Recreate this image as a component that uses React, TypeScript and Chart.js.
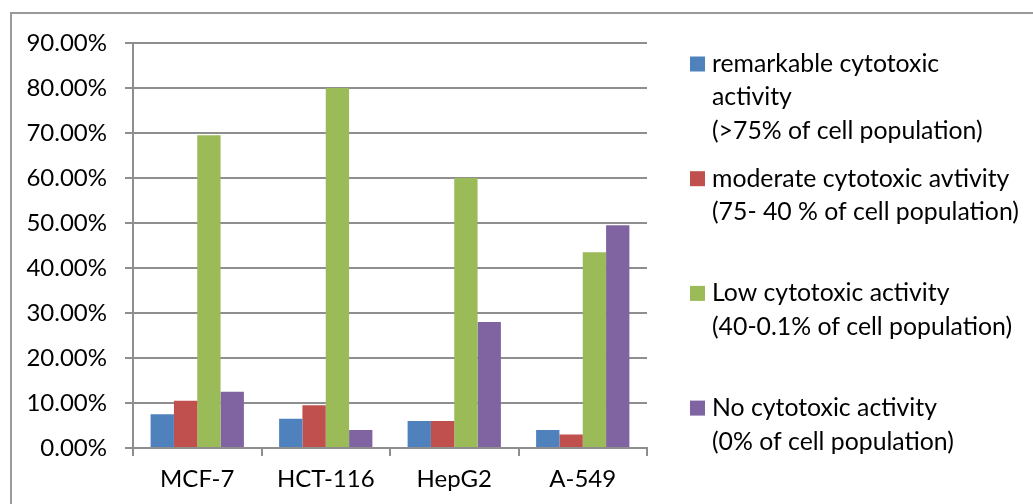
import React, { useEffect, useRef } from "react";
import { Chart, registerables } from "chart.js";

Chart.register(...registerables);

const categories = ["MCF-7", "HCT-116", "HepG2", "A-549"];
const remarkable = [7.5, 6.5, 6, 4];
const moderate = [10.5, 9.5, 6, 3];
const low = [69.5, 80, 60, 43.5];
const noActivity = [12.5, 4, 28, 49.5];

const legendLines = [
  ["remarkable cytotoxic", "activity", "(>75% of cell population)"],
  ["moderate cytotoxic avtivity", "(75- 40 % of cell population)"],
  ["Low cytotoxic activity", "(40-0.1% of cell population)"],
  ["No cytotoxic activity", "(0% of cell population)"],
];
const colors = ["#4F81BD", "#C0504D", "#9BBB59", "#8064A2"];
const FONT = "Lato";

const legendPlugin = {
  id: "sideLegend",
  afterDraw(chart: any) {
    const ctx = chart.ctx;
    const { right, top } = chart.chartArea;
    ctx.save();
    chart.data.datasets.forEach((ds: any, i: number) => {
      const lines = legendLines[i];
      const y0 = top + 21 + i * 114.7;
      ctx.fillStyle = ds.backgroundColor;
      ctx.fillRect(right + 43, y0 - 7.5, 15, 15);
      ctx.fillStyle = "#000";
      ctx.font = `24.8px ${FONT}`;
      ctx.textBaseline = "middle";
      ctx.textAlign = "left";
      lines.forEach((l, j) => ctx.fillText(l, right + 65, y0 + j * 33.5));
    });
    ctx.restore();
  },
};

export default function App() {
  const ref = useRef<HTMLCanvasElement | null>(null);
  useEffect(() => {
    if (!ref.current) return;
    const series = [remarkable, moderate, low, noActivity];
    const chart = new Chart(ref.current, {
      type: "bar",
      data: {
        labels: categories,
        datasets: series.map((d, i) => ({
          label: legendLines[i].join(" "),
          data: d,
          backgroundColor: colors[i],
          borderWidth: 0,
          categoryPercentage: 0.726,
          barPercentage: 1,
        })),
      },
      options: {
        responsive: false,
        animation: false,
        layout: { padding: { left: 0, top: 43, right: 386, bottom: 0 } },
        plugins: { legend: { display: false }, tooltip: { enabled: false } },
        scales: {
          x: {
            grid: {
              display: true,
              offset: true,
              drawOnChartArea: false,
              drawTicks: true,
              tickLength: 8,
              color: "#8e8e8e",
              lineWidth: 2,
            },
            border: { display: true, color: "#8e8e8e", width: 2 },
            ticks: { color: "#000", font: { family: FONT, size: 24 }, padding: 9 },
            afterFit: (s: any) => {
              s.height = 56;
            },
          },
          y: {
            min: 0,
            max: 90,
            grid: { color: "#8e8e8e", lineWidth: 2, tickLength: 8 },
            border: { display: true, color: "#8e8e8e", width: 2 },
            ticks: {
              stepSize: 10,
              color: "#000",
              font: { family: FONT, size: 24 },
              padding: 18,
              callback: (v: any) => Number(v).toFixed(2) + "%",
            },
            afterFit: (s: any) => {
              s.width = 133;
            },
          },
        },
      },
      plugins: [legendPlugin],
    });
    return () => chart.destroy();
  }, []);

  return (
    <div style={{ position: "fixed", left: 0, top: 0, width: 1033, height: 504, background: "#fff" }}>
      <div
        style={{
          position: "absolute",
          left: 10,
          top: 12,
          width: 1100,
          height: 600,
          borderLeft: "2px solid #9a9a9a",
          borderTop: "2px solid #9a9a9a",
        }}
      />
      <canvas ref={ref} width={1033} height={504} style={{ position: "absolute", left: 0, top: 0 }} />
    </div>
  );
}
